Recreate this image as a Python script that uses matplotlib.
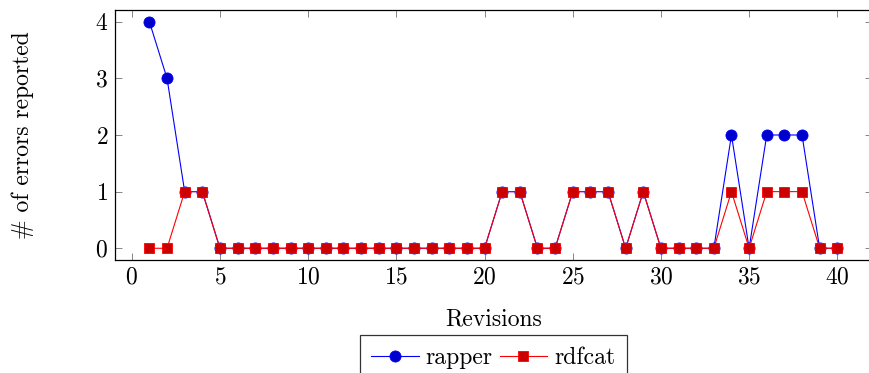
import matplotlib
matplotlib.use("Agg")
import matplotlib.pyplot as plt

revisions = list(range(1, 41))
rapper = [4, 3, 1, 1, 0, 0, 0, 0, 0, 0,
          0, 0, 0, 0, 0, 0, 0, 0, 0, 0,
          1, 1, 0, 0, 1, 1, 1, 0, 1, 0,
          0, 0, 0, 2, 0, 2, 2, 2, 0, 0]
rdfcat = [0, 0, 1, 1, 0, 0, 0, 0, 0, 0,
          0, 0, 0, 0, 0, 0, 0, 0, 0, 0,
          1, 1, 0, 0, 1, 1, 1, 0, 1, 0,
          0, 0, 0, 1, 0, 1, 1, 1, 0, 0]
xticks = [0, 5, 10, 15, 20, 25, 30, 35, 40]
yticks = [0, 1, 2, 3, 4]

plt.rcParams['font.family'] = 'serif'
plt.rcParams['font.serif'] = ['cmr10', 'DejaVu Serif']
plt.rcParams['mathtext.fontset'] = 'cm'
plt.rcParams['axes.formatter.use_mathtext'] = True

FS = 17
W, H = 869, 373
fig = plt.figure(figsize=(W / 100, H / 100), dpi=100)
left, right, top, bottom = 115, 871.7, 10.4, 259.6
ax = fig.add_axes([left / W, 1 - bottom / H, (right - left) / W, (bottom - top) / H])

ax.plot(revisions, rapper, color=(0, 0, 1), lw=0.8, marker='o', ms=8,
        mfc=(0, 0, 0.8), mec=(0, 0, 1), mew=0.6, label='rapper', zorder=3)
ax.plot(revisions, rdfcat, color=(1, 0, 0), lw=0.8, marker='s', ms=7.8,
        mfc=(0.8, 0, 0), mec=(1, 0, 0), mew=0.6, label='rdfcat', zorder=4)

ax.set_xlim(-0.95, 41.95)
ax.set_ylim(-0.2, 4.2)
ax.set_xticks(xticks)
ax.set_yticks(yticks)
ax.tick_params(direction='in', top=True, right=True, length=5, width=0.5,
               color='#555555', labelsize=FS, pad=5)
for s in ax.spines.values():
    s.set_linewidth(0.9)
    s.set_color('black')

ax.set_xlabel('Revisions', fontsize=FS, labelpad=14)
ax.set_ylabel('# of errors reported', fontsize=FS, labelpad=44)

leg = fig.legend(loc='upper center', bbox_to_anchor=((left + right) / 2 / W, 1 - 335 / H),
                 ncol=2, frameon=True, fancybox=False, fontsize=FS,
                 handlelength=2.0, handletextpad=0.3, columnspacing=0.3,
                 borderpad=0.5, borderaxespad=0, markerscale=1.0)
leg.get_frame().set_edgecolor('black')
leg.get_frame().set_linewidth(0.9)

fig.savefig('out.png', dpi=100)
